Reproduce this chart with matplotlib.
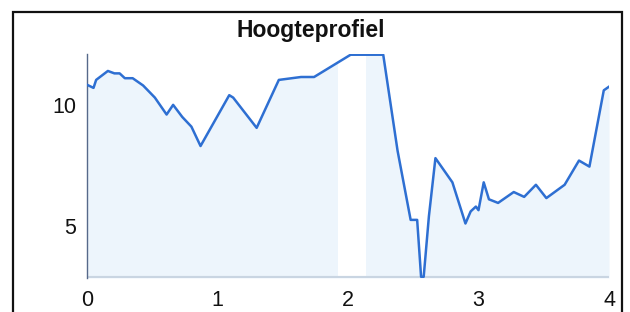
import matplotlib
matplotlib.use("Agg")
import matplotlib.pyplot as plt
from matplotlib.patches import Rectangle

# distance (km) and height (m)
afstand = [0.00, 0.05, 0.07, 0.16, 0.21, 0.25, 0.29, 0.35, 0.43, 0.52, 0.61, 0.66,
           0.73, 0.80, 0.87, 1.09, 1.12, 1.30, 1.47, 1.64, 1.74, 2.02, 2.27, 2.38,
           2.48, 2.53, 2.56, 2.58, 2.62, 2.67, 2.80, 2.90, 2.94, 2.98, 3.00, 3.04,
           3.08, 3.15, 3.27, 3.35, 3.44, 3.52, 3.66, 3.77, 3.85, 3.96, 4.00]
hoogte = [10.83, 10.7, 11.03, 11.4, 11.3, 11.3, 11.1, 11.1, 10.8, 10.3, 9.6, 10.0,
          9.5, 9.1, 8.3, 10.4, 10.3, 9.05, 11.03, 11.15, 11.15, 12.07, 12.07, 8.1,
          5.25, 5.25, 2.9, 2.9, 5.4, 7.8, 6.8, 5.1, 5.6, 5.8, 5.65, 6.8,
          6.1, 5.95, 6.4, 6.2, 6.7, 6.15, 6.7, 7.7, 7.45, 10.6, 10.75]

x_ticks = [0, 1, 2, 3, 4]
y_ticks = [5, 10]

fig = plt.figure(figsize=(6.3, 3.12), dpi=100)
plt.rcParams["font.family"] = ["Liberation Sans", "DejaVu Sans"]

# outer frame, runs past the bottom edge
fig.patches.append(Rectangle((13 / 630, -0.1), 609 / 630, 1.0615, transform=fig.transFigure,
                             fill=False, edgecolor="#111111", linewidth=1.6))

ax = fig.add_axes([87 / 630, 1 - 278 / 312, 522 / 630, 224 / 312])
ymin, ymax = 2.85, 12.1
ax.fill_between(afstand, hoogte, ymin, color="#edf5fc", linewidth=0, zorder=1)
ax.axvspan(1.92, 2.14, color="white", linewidth=0, zorder=1.5)
ax.plot(afstand, hoogte, color="#2e6fd2", linewidth=1.8, zorder=3)
ax.axhline(ymin, color="#c9d5e2", linewidth=3, zorder=2)

ax.set_xlim(0, 4)
ax.set_ylim(ymin, ymax)
ax.set_xticks(x_ticks)
ax.set_yticks(y_ticks)
ax.tick_params(length=0, labelsize=15.5, colors="#111111")
ax.tick_params(axis="x", pad=9)
ax.tick_params(axis="y", pad=8)
for s in ["top", "right", "bottom"]:
    ax.spines[s].set_visible(False)
ax.spines["left"].set_color("#56698a")
ax.spines["left"].set_linewidth(1.0)
ax.patch.set_alpha(0)

fig.text(311 / 630, 1 - 30 / 312, "Hoogteprofiel", ha="center", va="center",
         fontsize=16.5, fontweight="bold", color="#111111")

fig.savefig("out.png", dpi=100)
